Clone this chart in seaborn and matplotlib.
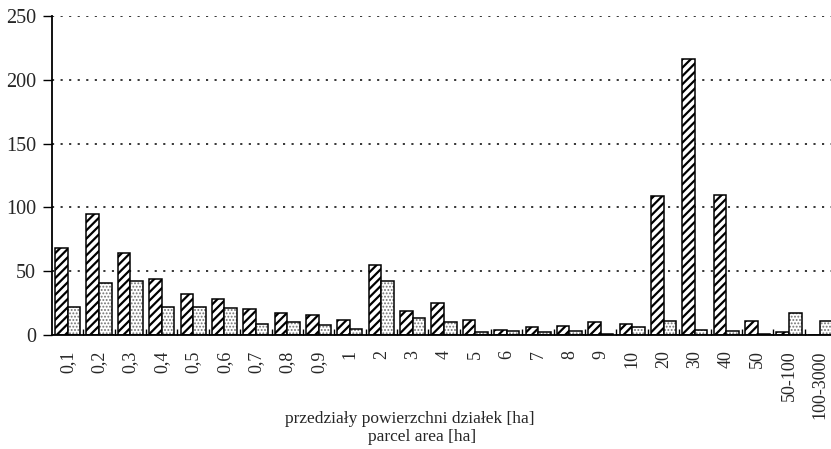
import numpy as np
import pandas as pd
import matplotlib
matplotlib.use("Agg")
import matplotlib.pyplot as plt
from matplotlib.patches import Rectangle
import seaborn as sns

# parcel area classes [ha]
categories = ["0,1", "0,2", "0,3", "0,4", "0,5", "0,6", "0,7", "0,8", "0,9",
              "1", "2", "3", "4", "5", "6", "7", "8", "9", "10",
              "20", "30", "40", "50", "50-100", "100-3000"]
# hatched series
series_a = [68, 95, 64, 44, 32, 28, 20, 17, 16,
            12, 55, 19, 25, 12, 4, 6.5, 7, 10, 8.5,
            109, 216, 110, 11, 2, 0]
# dotted series
series_b = [22, 41, 42, 22, 22, 21, 9, 10, 8,
            4.5, 42, 13, 10.5, 2.6, 3, 2.7, 3, 1, 6.3,
            11, 4, 3, 0.6, 17.5, 11]
y_ticks = [0, 50, 100, 150, 200, 250]

sns.set_theme(style="white")
plt.rcParams.update({
    "font.family": ["Liberation Serif", "DejaVu Serif"],
    "hatch.linewidth": 1.6,
})

df = pd.DataFrame({
    "klasa": categories * 2,
    "wartosc": series_a + series_b,
    "seria": ["a"] * len(categories) + ["b"] * len(categories),
})

fig = plt.figure(figsize=(8.31, 4.49), dpi=100)
ax = fig.add_axes([52 / 831, 1 - 335 / 449, 784 / 831, 319 / 449])

sns.barplot(data=df, x="klasa", y="wartosc", hue="seria", order=categories,
            palette=["white", "white"], saturation=1, edgecolor="black",
            linewidth=1.1, width=0.8, legend=False, ax=ax)

# hatched bars
for p in ax.containers[0]:
    p.set_hatch("////")
    p.set_edgecolor("black")
# dotted bars: grey stipple, black outline on top
for p in ax.containers[1]:
    p.set_hatch(".....")
    p.set_edgecolor("#727272")
    p.set_linewidth(0)
    if hasattr(p, "set_hatch_linewidth"):
        p.set_hatch_linewidth(0.9)
    ax.add_patch(Rectangle(p.get_xy(), p.get_width(), p.get_height(),
                           fill=False, edgecolor="black", lw=1.1,
                           zorder=p.get_zorder() + 0.1))

ax.set_xlim(-0.5, len(categories) - 0.5)
ax.set_ylim(0, 250)
ax.set_yticks(y_ticks)
ax.set_axisbelow(True)
ax.yaxis.grid(True, color="black", lw=1.1, ls=(0, (1.4, 4.2)))
ax.xaxis.grid(False)

for s in ["top", "right"]:
    ax.spines[s].set_visible(False)
for s in ["left", "bottom"]:
    ax.spines[s].set_color("black")
    ax.spines[s].set_linewidth(1.3)

ax.tick_params(axis="y", direction="out", length=6.5, width=1, color="black",
               labelsize=14.5, pad=5, left=True)
ax.tick_params(axis="x", which="major", length=0, labelsize=13, pad=11,
               labelrotation=90)
ax.set_xticks(np.arange(len(categories) - 1) + 0.5, minor=True)
ax.tick_params(axis="x", which="minor", direction="in", length=4.5, width=1,
               color="black", bottom=True)
ax.set_xlabel("")
ax.set_ylabel("")

fig.text(410 / 831, 1 - 419 / 449, "przedziały powierzchni działek [ha]",
         ha="center", va="center", fontsize=12.5)
fig.text(422 / 831, 1 - 437 / 449, "parcel area [ha]",
         ha="center", va="center", fontsize=12.5)

fig.savefig("out.png", dpi=100, facecolor="white")
